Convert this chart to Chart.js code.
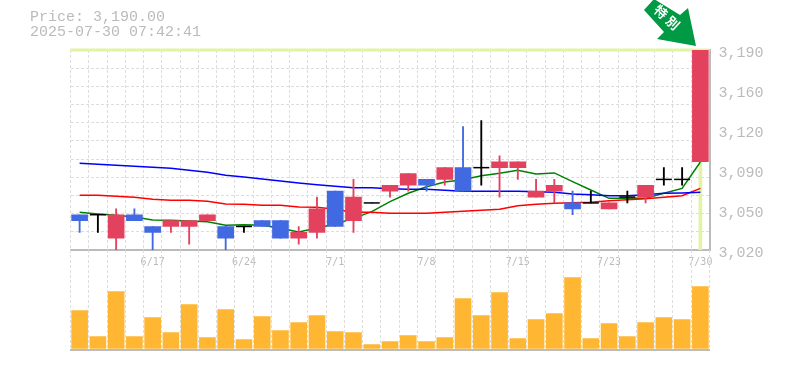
<!DOCTYPE html>
<html>
<head>
<meta charset="utf-8">
<title>Price chart</title>
<script src="https://cdn.jsdelivr.net/npm/chart.js@4"></script>
<style>
  html, body { margin: 0; padding: 0; background: #fff; overflow: hidden; }
  #wrap { position: relative; width: 785px; height: 370px; }
  canvas { position: absolute; left: 0; }
  #price-chart { top: 0; }
  #volume-chart { top: 250px; }
  .head { position: absolute; left: 30px; font: 15px "Liberation Mono", monospace; color: #bbb; white-space: pre; line-height: 15px; }
  #arrow { position: absolute; left: 0; top: 0; }
</style>
</head>
<body>
<div id="wrap">
  <canvas id="price-chart" width="785" height="275"></canvas>
  <canvas id="volume-chart" width="785" height="102"></canvas>
  <div class="head" style="top:10px">Price: 3,190.00</div>
  <div class="head" style="top:25px">2025-07-30 07:42:41</div>
  <svg id="arrow" width="785" height="60">
    <polygon points="644,10 654,-1 680,15 688,8 696,46 657,39 664,32" fill="#009944"/>
    <text transform="translate(660,13) rotate(42)" text-anchor="middle" dominant-baseline="middle" fill="#fff" font-family="Noto Sans CJK JP" font-weight="700" font-size="13">特</text>
    <text transform="translate(672,24) rotate(42)" text-anchor="middle" dominant-baseline="middle" fill="#fff" font-family="Noto Sans CJK JP" font-weight="700" font-size="13">別</text>
  </svg>
</div>
<script>
// Dates of the 35 sessions
const dates = ['6/11','6/12','6/13','6/16','6/17','6/18','6/19','6/20','6/23','6/24','6/25','6/26','6/27','6/30','7/1','7/2','7/3','7/4','7/7','7/8','7/9','7/10','7/11','7/14','7/15','7/16','7/17','7/18','7/22','7/23','7/24','7/25','7/28','7/29','7/30'];

// Candles
const opens  = [3050,3050,3030,3050,3040,3040,3040,3045,3040,3040,3045,3045,3030,3035,3070,3045,3060,3070,3075,3080,3080,3090,3090,3090,3090,3065,3070,3060,3060,3055,3065,3065,3080,3080,3095];
const highs  = [3050,3050,3055,3055,3040,3045,3045,3050,3040,3040,3045,3045,3040,3065,3070,3080,3060,3075,3085,3080,3090,3125,3130,3100,3095,3080,3080,3070,3070,3060,3070,3075,3090,3090,3190];
const lows   = [3035,3035,3020,3045,3020,3035,3025,3045,3020,3035,3040,3030,3025,3030,3040,3035,3060,3065,3070,3070,3075,3070,3075,3065,3080,3065,3060,3050,3060,3055,3060,3060,3075,3075,3095];
const closes = [3045,3050,3050,3045,3035,3045,3045,3050,3030,3040,3040,3030,3035,3055,3040,3065,3060,3075,3085,3075,3090,3070,3090,3095,3095,3070,3075,3055,3060,3060,3065,3075,3080,3080,3190];

// Moving averages
const maBlue  = [3093.7,3092.8,3092.0,3091.1,3090.3,3089.4,3087.7,3086.0,3083.5,3082.1,3080.4,3078.7,3077.0,3075.5,3074.1,3073.0,3073.0,3072.1,3071.6,3071.6,3070.7,3069.9,3069.9,3069.9,3069.9,3069.6,3069.0,3067.6,3067.0,3066.2,3066.2,3067.0,3068.2,3068.5,3069.0];
const maRed   = [3066.5,3066.5,3065.6,3064.8,3063.1,3062.2,3062.2,3061.4,3059.1,3058.8,3058.0,3058.0,3056.6,3056.3,3054.6,3052.0,3052.0,3051.2,3051.2,3051.2,3052.0,3052.9,3053.7,3054.6,3057.7,3058.8,3059.7,3060.2,3060.5,3061.9,3062.8,3063.6,3064.8,3066.2,3072.4];
const maGreen = [3052.0,3050.6,3049.5,3048.1,3045.5,3045.2,3044.7,3044.1,3041.0,3041.5,3041.0,3038.4,3035.3,3038.7,3042.1,3046.9,3052.6,3061.1,3068.2,3073.8,3077.8,3079.8,3083.2,3085.2,3087.7,3084.6,3085.5,3078.1,3071.0,3063.9,3063.9,3063.9,3068.2,3072.4,3094.8];

// Volume
const volumes = [3800,1200,5700,1200,3100,1600,4400,1100,3900,900,3200,1800,2600,3300,1700,1600,400,700,1300,700,1100,5000,3300,5600,1000,2900,3500,7100,1000,2500,1200,2600,3100,2900,6200];

// Right axis
const priceTicks = [3020,3054,3088,3122,3156,3190];
const priceTickLabels = ['3,020','3,050','3,090','3,120','3,160','3,190'];
const lastPrice = 3190;

const UP = '#e3425f', DOWN = '#4169e1', DOJI = '#000000';
const GRID = '#dddddd', AXIS = '#bbbbbb', HILITE = '#e2f3a4';
const DASH = [3, 2];

const candleColor = closes.map((c, i) => c > opens[i] ? UP : c < opens[i] ? DOWN : DOJI);
const bodies = opens.map((o, i) => o === closes[i] ? null : [o, closes[i]]);
const wicks = lows.map((l, i) => [l, highs[i]]);
const dojis = opens.map((o, i) => o === closes[i] ? o : null);
const hiliteBar = dates.map((d, i) => i === dates.length - 1 ? [3020, lastPrice] : null);

// yellow-green line on the last price
const lastPriceLine = {
  id: 'lastPriceLine',
  beforeDatasetsDraw(chart) {
    const { ctx, chartArea, scales } = chart;
    const y = scales.y.getPixelForValue(lastPrice);
    ctx.save();
    ctx.strokeStyle = HILITE;
    ctx.lineWidth = 3;
    ctx.beginPath();
    ctx.moveTo(chartArea.left, y);
    ctx.lineTo(chartArea.right, y);
    ctx.stroke();
    ctx.restore();
  }
};

function maLine(data, color) {
  return { type: 'line', data, borderColor: color, borderWidth: 1.5, pointRadius: 0, tension: 0, order: 5, clip: false };
}

new Chart(document.getElementById('price-chart'), {
  data: {
    labels: dates,
    datasets: [
      { type: 'bar', data: hiliteBar, backgroundColor: HILITE, barThickness: 3, order: 6 },
      maLine(maBlue, '#0000ff'),
      maLine(maRed, '#ff0000'),
      maLine(maGreen, '#008000'),
      { type: 'bar', data: wicks, backgroundColor: candleColor, barThickness: 1.2, order: 3 },
      { type: 'bar', data: bodies, backgroundColor: candleColor, barThickness: 16, order: 2 },
      { type: 'line', data: dojis, showLine: false, pointStyle: 'line', pointRadius: 8, pointBorderColor: DOJI, pointBorderWidth: 1.5, order: 1 }
    ]
  },
  options: {
    responsive: false,
    animation: false,
    devicePixelRatio: 1,
    layout: { padding: { top: 50 } },
    datasets: { bar: { grouped: false } },
    plugins: { legend: { display: false }, tooltip: { enabled: false } },
    scales: {
      x: {
        offset: true,
        grid: { color: GRID, drawTicks: false },
        border: { color: AXIS, width: 2, dash: DASH },
        ticks: {
          autoSkip: false, maxRotation: 0, padding: 6, color: AXIS,
          font: { family: 'DejaVu Sans Mono', size: 10 },
          callback: (v, i) => (i + 1) % 5 === 0 ? dates[i] : ''
        },
        afterFit: s => { s.height = 25; }
      },
      y: {
        position: 'left', min: 3020, max: 3190,
        afterBuildTicks: s => {
          s.ticks = [];
          for (let i = 0; i <= 11; i++) s.ticks.push({ value: 3020 + i * 170 / 11 });
        },
        grid: { color: GRID, drawTicks: false },
        border: { display: false, dash: DASH },
        ticks: { display: false },
        afterFit: s => { s.width = 70.5; }
      },
      y1: {
        position: 'right', min: 3020, max: 3190,
        afterBuildTicks: s => { s.ticks = priceTicks.map(v => ({ value: v })); },
        grid: { display: false, drawTicks: false },
        border: { color: AXIS, width: 2 },
        ticks: {
          color: AXIS, padding: 9, labelOffset: 3,
          font: { family: 'Liberation Mono', size: 15 },
          callback: (v, i) => priceTickLabels[i]
        },
        afterFit: s => { s.width = 75.5; }
      }
    }
  },
  plugins: [lastPriceLine]
});

new Chart(document.getElementById('volume-chart'), {
  data: {
    labels: dates,
    datasets: [{ type: 'bar', data: volumes, backgroundColor: '#ffb733', barThickness: 16 }]
  },
  options: {
    responsive: false,
    animation: false,
    devicePixelRatio: 1,
    layout: { padding: { right: 75.5 } },
    plugins: { legend: { display: false }, tooltip: { enabled: false } },
    scales: {
      x: {
        offset: true,
        grid: { color: GRID, drawTicks: false },
        border: { color: AXIS, width: 2, dash: DASH },
        ticks: { display: false },
        afterFit: s => { s.height = 2; }
      },
      y: {
        min: -150, max: 9850,
        grid: { display: false, drawTicks: false },
        border: { display: false },
        ticks: { display: false },
        afterFit: s => { s.width = 70.5; }
      }
    }
  }
});
</script>
</body>
</html>
